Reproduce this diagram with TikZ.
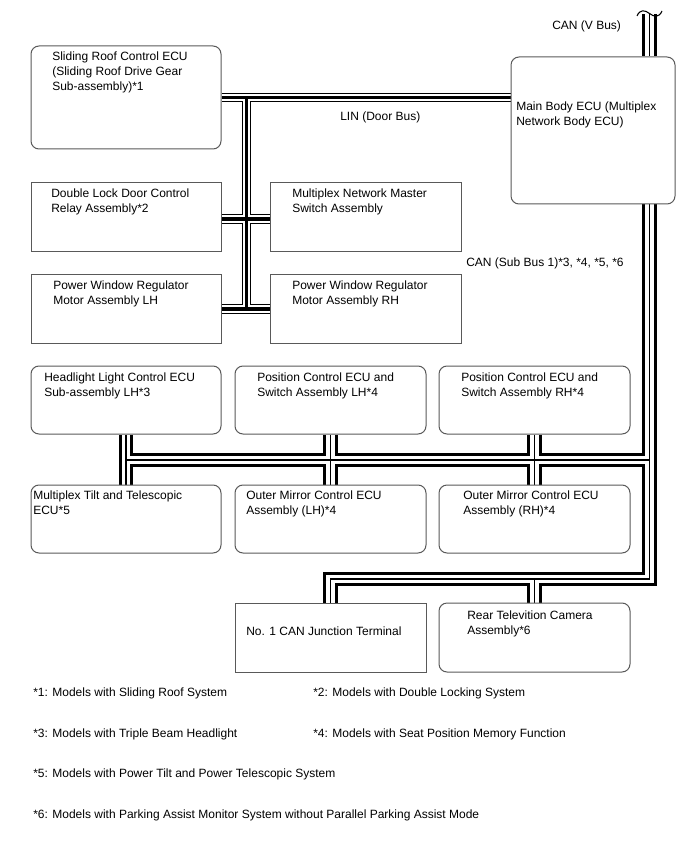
\documentclass[tikz,border=0pt]{standalone}
\usepackage{fontspec}
\setmainfont{Liberation Sans}
\usetikzlibrary{fit,backgrounds}
\newcommand\canpaths[1]{%
  \draw[#1] (C0) -- (mbecu.north -| C0);
  \draw[#1] (mbecu.south -| C0) -- (C3) -- (C4) -- (can1.north -| C4);
  \draw[#1] (C5) -- (rcam.north -| C5);
  \draw[#1] (hl.south -| S0) -- (mtilt.north -| S0);
  \draw[#1] (S0) -- (S0 -| C0);
  \draw[#1] (poslh.south -| S1) -- (omlh.north -| S1);
  \draw[#1] (posrh.south -| S2) -- (omrh.north -| S2);
}
\newcommand\linpaths[1]{%
  \draw[#1] (sroof.east |- L0) -- (mbecu.west |- L0);
  \draw[#1] (L0) -- (L2);
  \draw[#1] (dlock.east |- L1) -- (mswitch.west |- L1);
  \draw[#1] (pwlh.east |- L2) -- (pwrh.west |- L2);
}
\begin{document}
\begin{tikzpicture}[x=0.75pt,y=-0.75pt,
  ecubox/.style={draw=black!65, line width=0.75pt, fill=white, inner sep=0pt, rounded corners=6pt},
  sqbox/.style={draw=black!65, line width=0.75pt, fill=white, inner sep=0pt},
  lbl/.style={inner sep=0pt, font=\fontsize{9}{11.25}\selectfont, align=left, anchor=north west},
  txt/.style={inner sep=0pt, font=\fontsize{9}{11.25}\selectfont, anchor=west},
  canout/.style={line width=10.6pt, line join=miter},
  canwhite/.style={line width=6.1pt, white, line join=miter},
  caninner/.style={line width=1pt, line join=miter},
  linout/.style={line width=7.3pt, line join=miter},
  linwhite/.style={line width=5.7pt, white, line join=miter},
  lininner/.style={line width=2.5pt, line join=miter},
  wave/.style={line width=0.8pt}
]
\useasboundingbox (0,0) rectangle (688,852);

% boxes
\node[ecubox, fit={(31,46) (221,149)}] (sroof) {};
\node[ecubox, fit={(511,57) (675,204)}] (mbecu) {};
\node[sqbox, fit={(31,183) (221,251)}] (dlock) {};
\node[sqbox, fit={(270,183) (461,251)}] (mswitch) {};
\node[sqbox, fit={(31,274) (221,343)}] (pwlh) {};
\node[sqbox, fit={(270,274) (461,343)}] (pwrh) {};
\node[ecubox, fit={(31,366) (221,434)}] (hl) {};
\node[ecubox, fit={(235,366) (426,434)}] (poslh) {};
\node[ecubox, fit={(439,366) (630,434)}] (posrh) {};
\node[ecubox, fit={(31,485) (221,553)}] (mtilt) {};
\node[ecubox, fit={(235,485) (426,553)}] (omlh) {};
\node[ecubox, fit={(439,485) (630,553)}] (omrh) {};
\node[sqbox, fit={(235,603) (426,672)}] (can1) {};
\node[ecubox, fit={(439,603) (630,672)}] (rcam) {};

% box texts
\node[lbl] (sroof-t) at (52,52) {Sliding Roof Control ECU\\(Sliding Roof Drive Gear\\Sub-assembly)*1};
\node[lbl] (mbecu-t) at (516,102) {Main Body ECU (Multiplex\\Network Body ECU)};
\node[lbl] (dlock-t) at (51,189) {Double Lock Door Control\\Relay Assembly*2};
\node[lbl] (mswitch-t) at (292,189) {Multiplex Network Master\\Switch Assembly};
\node[lbl] (pwlh-t) at (53,281) {Power Window Regulator\\Motor Assembly LH};
\node[lbl] (pwrh-t) at (292,281) {Power Window Regulator\\Motor Assembly RH};
\node[lbl] (hl-t) at (44,373) {Headlight Light Control ECU\\Sub-assembly LH*3};
\node[lbl] (poslh-t) at (257,373) {Position Control ECU and\\Switch Assembly LH*4};
\node[lbl] (posrh-t) at (461,373) {Position Control ECU and\\Switch Assembly RH*4};
\node[lbl] (mtilt-t) at (33,491) {Multiplex Tilt and Telescopic\\ECU*5};
\node[lbl] (omlh-t) at (246,491) {Outer Mirror Control ECU\\Assembly (LH)*4};
\node[lbl] (omrh-t) at (463,491) {Outer Mirror Control ECU\\Assembly (RH)*4};
\node[lbl] (can1-t) at (246,626.5) {No. 1 CAN Junction Terminal};
\node[lbl] (rcam-t) at (467,611) {Rear Televition Camera\\Assembly*6};

% bus labels
\node[txt] (vbus-l) at (552,26) {CAN (V Bus)};
\node[txt] (lin-l) at (340,117) {LIN (Door Bus)};
\node[txt] (sub-l) at (466,263) {CAN (Sub Bus 1)*3, *4, *5, *6};

% footnotes
\node[txt] (f1) at (33,693) {*1: Models with Sliding Roof System};
\node[txt] (f2) at (313,693) {*2: Models with Double Locking System};
\node[txt] (f3) at (33,734) {*3: Models with Triple Beam Headlight};
\node[txt] (f4) at (313,734) {*4: Models with Seat Position Memory Function};
\node[txt] (f5) at (33,774) {*5: Models with Power Tilt and Power Telescopic System};
\node[txt] (f6) at (33,815) {*6: Models with Parking Assist Monitor System without Parallel Parking Assist Mode};

% bus junction coordinates
\coordinate (C0) at (649.5,14);
\coordinate (C3) at (649.5,579);
\coordinate (C4) at (330.5,579);
\coordinate (C5) at (534.5,579);
\coordinate (S0) at (126,460);
\coordinate (S1) at (330.5,460);
\coordinate (S2) at (534.5,460);
\coordinate (L0) at (246.5,97.5);
\coordinate (L1) at (246.5,219);
\coordinate (L2) at (246.5,309);

\begin{pgfonlayer}{background}
  \canpaths{canout}
  \canpaths{canwhite}
  \canpaths{caninner}
  \linpaths{linout}
  \linpaths{linwhite}
  \linpaths{lininner}
\end{pgfonlayer}

% break mark at the top of the V bus
\coordinate (W0) at (637,16);
\coordinate (W1) at (662,11);
\draw[wave] (W0) .. controls (640,9) and (645,10) .. (649.5,13.5) .. controls (654,17) and (659,18) .. (W1);
\end{tikzpicture}
\end{document}
